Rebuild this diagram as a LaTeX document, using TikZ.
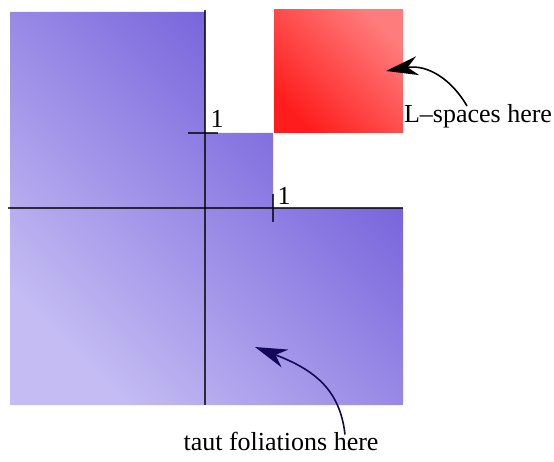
\documentclass[tikz,border=0pt]{standalone}
\usepackage{fontspec}
\setmainfont{Liberation Serif}
\usetikzlibrary{arrows.meta}
\definecolor{bluelight}{HTML}{C4BCF3}
\definecolor{bluemid}{HTML}{8F7DE1}
\definecolor{bluedark}{HTML}{6C56D8}
\definecolor{redbright}{HTML}{FF1C1C}
\definecolor{redlight}{HTML}{FF7C7C}
\definecolor{navy}{HTML}{14085A}
\tikzset{
  axis/.style={draw=black, draw opacity=0.75, line width=1.2pt},
  lab/.style={font=\fontsize{26}{30}\selectfont, inner sep=0pt},
  pointer/.style={line width=1.6pt, -{Stealth[length=32pt,width=19pt,inset=10pt]}},
}
\begin{document}
\begin{tikzpicture}[x=1pt,y=-1pt]
\useasboundingbox (0,0) rectangle (554,462);
% blue region
\shade[bottom color=bluelight, middle color=bluemid, top color=bluedark, shading angle=-45]
  (10,12) -- (205,12) -- (205,133) -- (273,133) -- (273,208) -- (403,208)
  -- (403,405) -- (10,405) -- cycle;
% red square
\shade[bottom color=redbright, top color=redlight, shading angle=-45]
  (274,10) rectangle (403,133);
% axes
\coordinate (xl) at (8,208);
\coordinate (xr) at (403,208);
\coordinate (yt) at (205,10);
\coordinate (yb) at (205,405);
\draw[axis] (xl) -- (xr);
\draw[axis] (yt) -- (yb);
% ticks
\coordinate (t1a) at (188,133);
\coordinate (t1b) at (218,133);
\coordinate (t2a) at (273,194);
\coordinate (t2b) at (273,222);
\draw[axis] (t1a) -- (t1b);
\draw[axis] (t2a) -- (t2b);
\node[lab] (one1) at (217,119) {1};
\node[lab] (one2) at (284,196) {1};
% labels
\node[lab] (ls) at (478,116) {L--spaces here};
\node[lab] (tf) at (281,441) {taut foliations here};
\coordinate (lstip) at (386,71);
\coordinate (tftip) at (255,347);
\draw[pointer, black] ([xshift=-11pt,yshift=-2pt]ls.north) .. controls (452,80) and (428,64) .. (lstip);
\draw[pointer, navy] ([xshift=64pt,yshift=-3pt]tf.north) .. controls (340,390) and (315,370) .. (tftip);
\end{tikzpicture}
\end{document}
